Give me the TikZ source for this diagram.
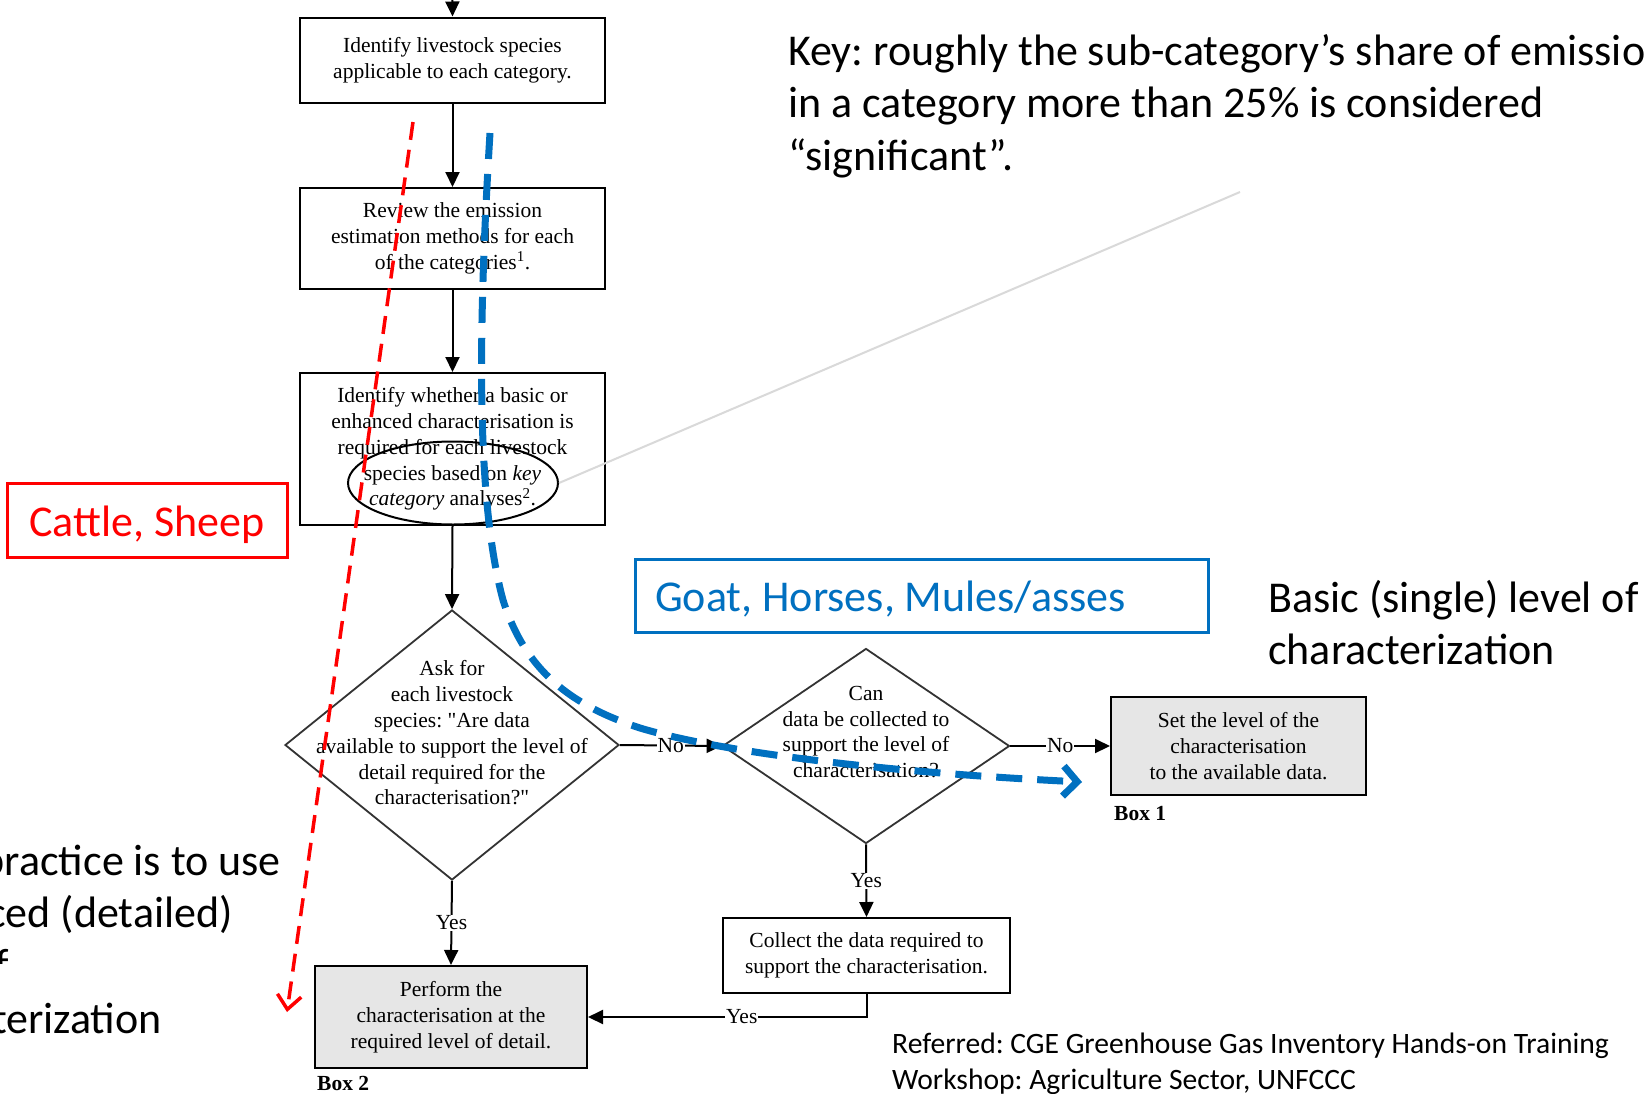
\documentclass[tikz,border=0pt]{standalone}
\usepackage{fontspec}
\setmainfont{Liberation Serif}
\newfontfamily\serifplain{Liberation Serif}
\newfontfamily\calfont{Carlito}
\usetikzlibrary{arrows.meta,shapes.geometric}
\definecolor{annred}{HTML}{FF0000}
\definecolor{annblue}{HTML}{0070C0}
\definecolor{boxgray}{HTML}{E6E6E6}
\definecolor{leader}{HTML}{D9D9D9}
\newcommand\ftext{\fontsize{21.5}{25.8}\selectfont}
\newcommand\sq{{\serifplain"}}
\frenchspacing
\begin{document}
\begin{tikzpicture}[x=1pt,y=-1pt,
  flow/.style={draw, line width=2pt, rectangle, inner sep=0pt, align=center, font=\ftext},
  grayflow/.style={flow, fill=boxgray},
  dia/.style={draw=black!80, line width=1.8pt, diamond, inner sep=0pt},
  diatext/.style={align=center, font=\ftext, inner sep=0pt},
  conn/.style={line width=2pt, -{Triangle[length=15pt,width=14pt]}},
  lab/.style={fill=white, inner sep=1pt, font=\ftext},
  boxlab/.style={font=\ftext\bfseries, inner sep=0pt, anchor=west},
  sans/.style={font=\calfont\fontsize{44}{53}\selectfont, inner sep=0pt},
  refsans/.style={font=\calfont\fontsize{29.6}{36}\selectfont, inner sep=0pt, anchor=base west},
  reddash/.style={draw=annred, line width=3.5pt, dash pattern=on 18pt off 10pt, -{Straight Barb[length=14pt,width=24pt]}},
  bluedash/.style={draw=annblue, line width=7pt, dash pattern=on 26pt off 15pt, -{Straight Barb[length=14pt,width=30pt]}},
  tag/.style={line width=3pt, inner sep=0pt}
]
\clip (0,0) rectangle (1644,1093);
\fill[white] (0,0) rectangle (1644,1093);

% flowchart boxes
\node[flow, minimum width=305pt, minimum height=85pt] (A) at (452.5,60) {Identify livestock species\\applicable to each category.};
\node[flow, minimum width=305pt, minimum height=101pt] (B) at (452.5,238.5) {Review the emission\\estimation methods for each\\of the categories\textsuperscript{1}.};
\node[flow, minimum width=305pt, minimum height=152pt] (C) at (452.5,449) {Identify whether a basic or\\enhanced characterisation is\\required for each livestock\\species based on \textit{key}\\\textit{category} analyses\textsuperscript{2}.};
\node[dia, minimum width=334pt, minimum height=270pt] (D1) at (452,745) {};
\node[diatext] (D1t) at (452,733) {Ask for\\each livestock\\species: \sq Are data\\available to support the level of\\detail required for the\\characterisation?\sq};
\node[dia, minimum width=287pt, minimum height=195pt] (D2) at (866,746) {};
\node[diatext] (D2t) at (866,732) {Can\\data be collected to\\support the level of\\characterisation?};
\node[flow, minimum width=287pt, minimum height=75pt] (CO) at (866.5,955.5) {Collect the data required to\\support the characterisation.};
\node[grayflow, minimum width=255pt, minimum height=98pt] (B1) at (1238.5,746) {Set the level of the\\characterisation\\to the available data.};
\node[grayflow, minimum width=272pt, minimum height=102pt] (B2) at (451,1017) {Perform the\\characterisation at the\\required level of detail.};
\node[boxlab] (B1l) at (1114,813) {Box 1};
\node[boxlab] (B2l) at (317,1083) {Box 2};

% connectors
\coordinate (top) at (452,-40);
\draw[conn] (top) -- (A.north);
\draw[conn] (A) -- (B);
\draw[conn] (B) -- (C);
\draw[conn] (C.south) -- (D1.north);
\draw[conn] (D1.east) -- node[lab] {No} (D2.west);
\draw[conn] (D2.east) -- node[lab] {No} (B1.west);
\draw[conn] (D2.south) -- node[lab] {Yes} (CO.north);
\draw[conn] (D1.south) -- node[lab] {Yes} (B2.north);
\draw[conn] (CO.south) |- node[lab, pos=0.724] {Yes} (B2.east);

% key ellipse and leader line
\node[draw, ellipse, line width=2pt, minimum width=210pt, minimum height=83pt, inner sep=0pt] (ell) at (453,483) {};
\coordinate (keyend) at (1240,192);
\draw[leader, line width=2pt] (ell.east) -- (keyend);

% annotation boxes
\node[tag, draw=annred, minimum width=280pt, minimum height=74pt] (cattlebox) at (147,520) {};
\node[sans, text=annred, anchor=base] (cattle) at (147,536) {Cattle, Sheep};
\node[tag, draw=annblue, minimum width=573pt, minimum height=73pt] (goatbox) at (921.5,595.5) {};
\node[sans, text=annblue, anchor=base west] (goat) at (655,611) {Goat, Horses, Mules/asses};

% annotation arrows
\coordinate (rs) at (413,122);
\coordinate (re) at (287,1012);
\draw[reddash] (rs) -- (re);
\coordinate (bs) at (490,133);
\coordinate (be) at (1082,782);
\draw[bluedash] (bs) .. controls (478,330) and (476,500) .. (503,600)
  .. controls (525,670) and (570,705) .. (640,728)
  .. controls (720,752) and (880,772) .. (be);

% key text
\node[sans, anchor=base west] (k1) at (788,65) {Key: roughly the sub-category’s share of emissions};
\node[sans, anchor=base west] (k2) at (788,117.5) {in a category more than 25\% is considered};
\node[sans, anchor=base west] (k3) at (788,170) {“significant”.};

% basic text
\node[sans, anchor=base west] (bt1) at (1268,612) {Basic (single) level of};
\node[sans, anchor=base west] (bt2) at (1268,664) {characterization};

% good practice text (cut off at the left)
\node[sans, anchor=base east] (g1) at (281,875) {Good practice is to use};
\node[sans, anchor=base east] (g2) at (233,927) {enhanced (detailed)};
\begin{scope}
\clip (0,900) rectangle (60,963);
\node[sans, anchor=base east] (g3) at (9,979) {level of};
\end{scope}
\node[sans, anchor=base east] (g4) at (162,1033) {characterization};

% reference
\node[refsans] (r1) at (892,1053) {Referred: CGE Greenhouse Gas Inventory Hands-on Training};
\node[refsans] (r2) at (892,1089) {Workshop: Agriculture Sector, UNFCCC};
\end{tikzpicture}
\end{document}
